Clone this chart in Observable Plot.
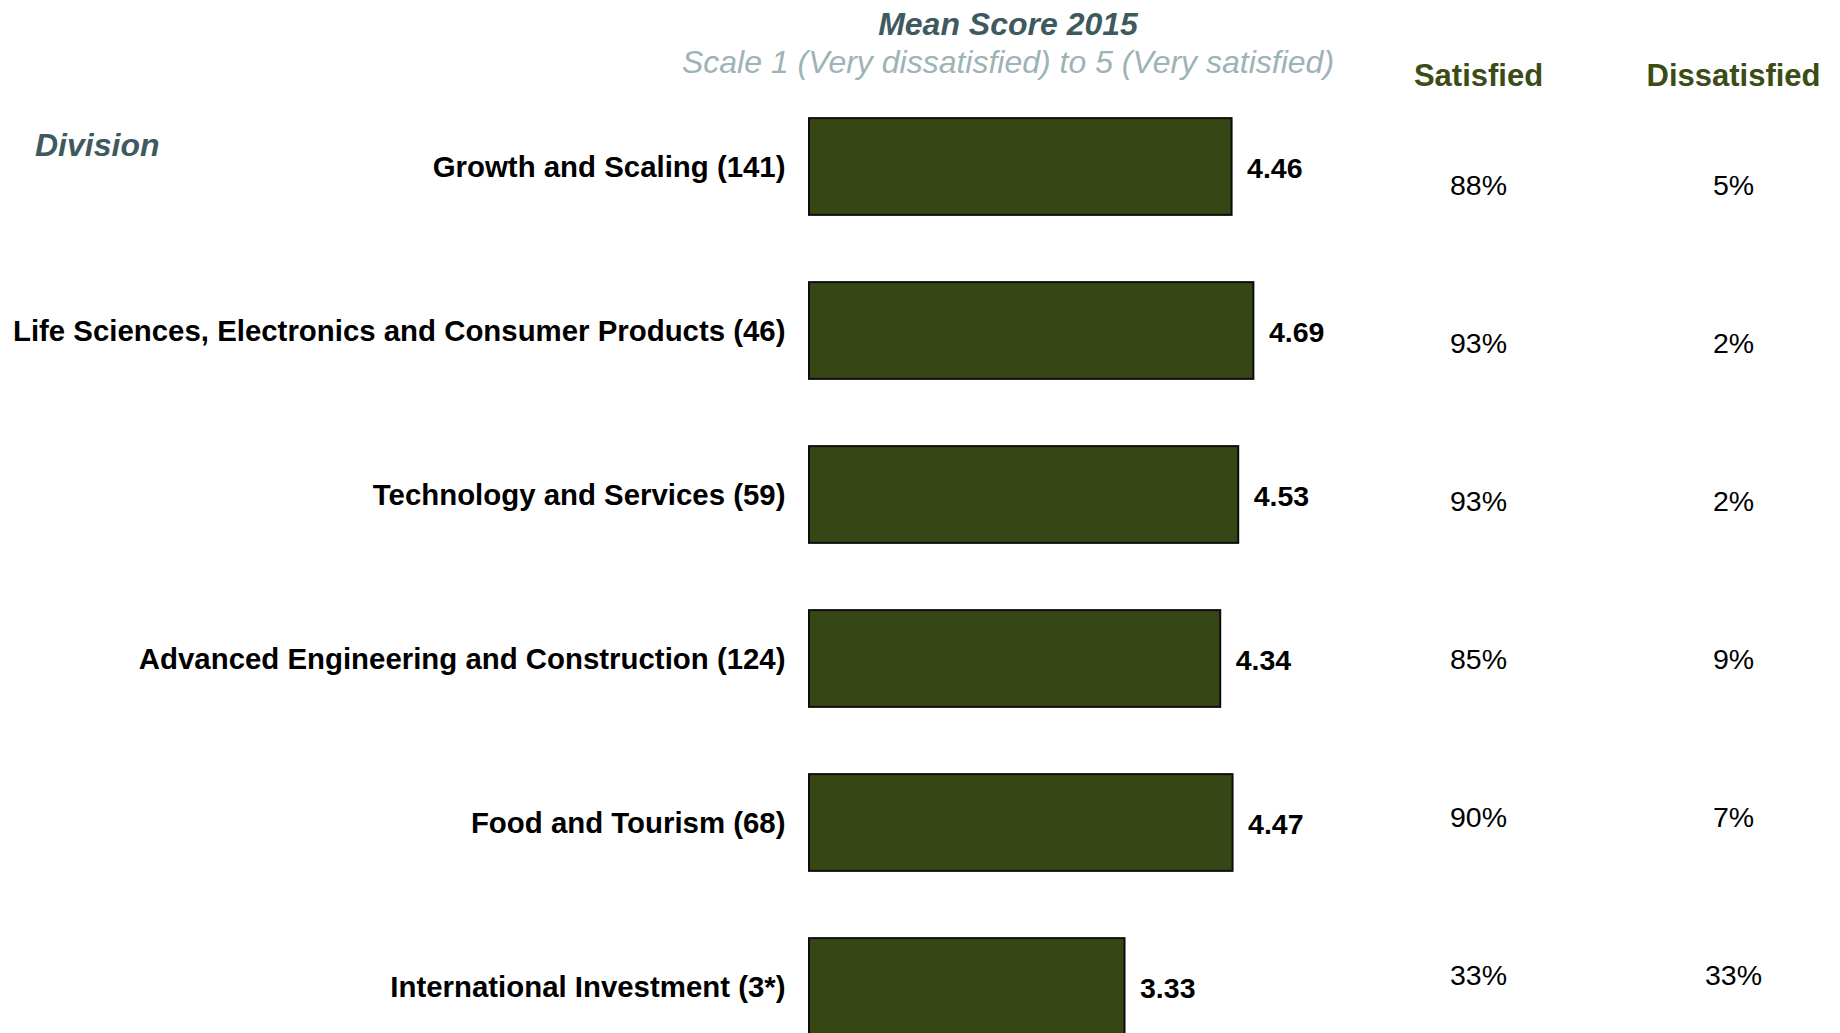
<!DOCTYPE html>
<html>
<head>
<meta charset="utf-8">
<script src="https://cdn.jsdelivr.net/npm/d3@7"></script>
<script src="https://cdn.jsdelivr.net/npm/@observablehq/plot@0.6"></script>
<style>
  html, body { margin: 0; padding: 0; background: #fff; overflow: hidden; }
  #wrap { position: relative; width: 1840px; height: 1033px; overflow: hidden; font-family: "Liberation Sans", Arial, sans-serif; }
  #wrap svg { position: absolute; left: 0; top: 0; overflow: hidden; }
  .t { position: absolute; white-space: nowrap; line-height: 32px; font-size: 32px; }
  #title { left: 1008px; top: 8px; transform: translateX(-50%); font-weight: bold; font-style: italic; color: #3f5a5f; }
  #subtitle { left: 1008px; top: 46px; transform: translateX(-50%); font-style: italic; color: #9db3b6; }
  #division { left: 35px; top: 129px; font-weight: bold; font-style: italic; color: #3f5a5f; }
</style>
</head>
<body>
<div id="wrap">
  <div class="t" id="title">Mean Score 2015</div>
  <div class="t" id="subtitle">Scale 1 (Very dissatisfied) to 5 (Very satisfied)</div>
  <div class="t" id="division">Division</div>
</div>
<script>
const divisions = [
  "Growth and Scaling (141)",
  "Life Sciences, Electronics and Consumer Products (46)",
  "Technology and Services (59)",
  "Advanced Engineering and Construction (124)",
  "Food and Tourism (68)",
  "International Investment (3*)"
];
const meanScores = [4.46, 4.69, 4.53, 4.34, 4.47, 3.33];
const satisfied = [88, 93, 93, 85, 90, 33];
const dissatisfied = [5, 2, 2, 9, 7, 33];
const columns = ["Satisfied", "Dissatisfied"];

const bars = divisions.map((d, i) => ({division: d, score: meanScores[i]}));
const shares = divisions.flatMap((d, i) => [
  {division: d, column: columns[0], value: satisfied[i]},
  {division: d, column: columns[1], value: dissatisfied[i]}
]);

const font = "'Liberation Sans', Arial, sans-serif";
const wrap = document.getElementById("wrap");

const barPlot = Plot.plot({
  width: 1840,
  height: 1033,
  marginLeft: 809,
  marginRight: 557.25,
  marginTop: 0,
  marginBottom: 0,
  style: {fontFamily: font, background: "transparent", overflow: "hidden"},
  x: {domain: [0, 5], axis: null},
  y: {domain: divisions, range: [50.88, 1102.12], paddingInner: 0.41, paddingOuter: 0.41, round: false, axis: null, label: null},
  marks: [
    Plot.axisY({anchor: "left", tickSize: 0, tickPadding: 24, fontSize: 29.4, fontWeight: "bold", color: "#000", dy: 1, label: null}),
    Plot.barX(bars, {x: "score", y: "division", fill: "#374615", stroke: "#0d0d0d", strokeWidth: 2}),
    Plot.text(bars, {x: "score", y: "division", text: d => d.score.toFixed(2), textAnchor: "start", dx: 15, dy: 2, fontSize: 28.5, fontWeight: "bold", fill: "#000"})
  ]
});
wrap.appendChild(barPlot);

const tablePlot = Plot.plot({
  width: 1840,
  height: 1033,
  marginTop: 90,
  marginBottom: 0,
  marginLeft: 0,
  marginRight: 0,
  style: {fontFamily: font, background: "transparent", overflow: "hidden"},
  x: {type: "point", domain: columns, range: [1478, 1733], padding: 0, axis: null},
  y: {type: "point", domain: divisions, range: [184, 975], padding: 0, axis: null},
  marks: [
    Plot.axisX({anchor: "top", tickSize: 0, tickPadding: 4.5, fontSize: 31, fontWeight: "bold", color: "#3b4c16", label: null}),
    Plot.text(shares, {x: "column", y: "division", text: d => d.value + "%", fontSize: 28.5, fill: "#000"})
  ]
});
wrap.appendChild(tablePlot);
</script>
</body>
</html>
